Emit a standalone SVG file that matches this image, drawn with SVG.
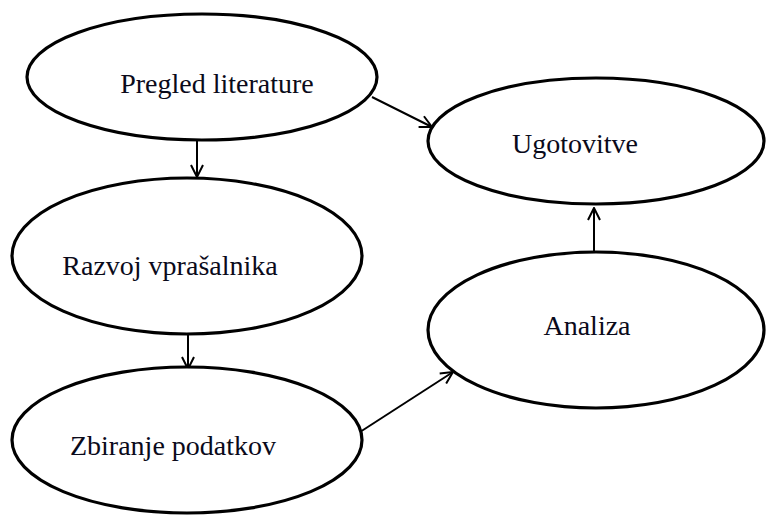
<svg xmlns="http://www.w3.org/2000/svg" width="766" height="519" viewBox="0 0 766 519">
<style>
.node ellipse{fill:#fff;stroke:#000;stroke-width:3.2}
.node text{font-family:"Liberation Serif","Times New Roman",serif;font-size:28px;fill:#0a0a1a}
.edges line{stroke:#000;stroke-width:2;fill:none;marker-end:url(#arr)}
</style>
<defs>
<marker id="arr" viewBox="0 0 14 14" refX="13" refY="7" markerWidth="14" markerHeight="14" markerUnits="userSpaceOnUse" orient="auto">
<path d="M1,1 L13,7 L1,13" fill="none" stroke="#000" stroke-width="2"/>
</marker>
</defs>
<rect width="766" height="519" fill="#fff"/>
<g class="edges">
<line x1="197" y1="140" x2="197" y2="177"/>
<line x1="188" y1="335" x2="188" y2="369"/>
<line x1="372" y1="97" x2="432" y2="127"/>
<line x1="360" y1="432" x2="453" y2="372"/>
<line x1="594" y1="252" x2="594" y2="208"/>
</g>
<g class="node" id="pregled">
<ellipse cx="202" cy="77" rx="175" ry="63"/>
<text x="217" y="93" text-anchor="middle">Pregled literature</text>
</g>
<g class="node" id="razvoj">
<ellipse cx="187" cy="256" rx="175" ry="78"/>
<text x="170" y="275" text-anchor="middle">Razvoj vprašalnika</text>
</g>
<g class="node" id="zbiranje">
<ellipse cx="187" cy="440" rx="175" ry="73"/>
<text x="173" y="455" text-anchor="middle">Zbiranje podatkov</text>
</g>
<g class="node" id="ugotovitve">
<ellipse cx="596" cy="141" rx="168" ry="63"/>
<text x="575" y="153" text-anchor="middle">Ugotovitve</text>
</g>
<g class="node" id="analiza">
<ellipse cx="596" cy="330" rx="168" ry="78"/>
<text x="587" y="335" text-anchor="middle">Analiza</text>
</g>
</svg>
